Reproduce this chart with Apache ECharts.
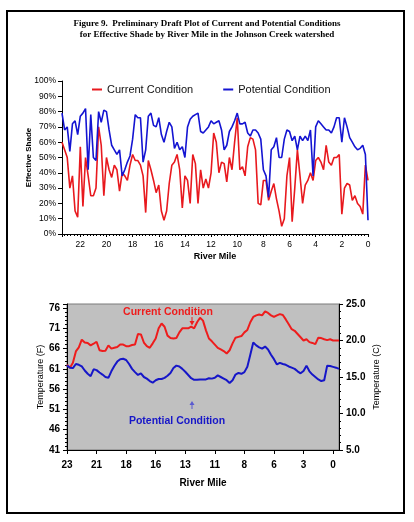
<!DOCTYPE html>
<html><head><meta charset="utf-8">
<script src="https://cdn.jsdelivr.net/npm/echarts@6/dist/echarts.min.js"></script>
<style>html,body{margin:0;padding:0;background:#fff}#c{width:414px;height:522px}</style>
</head><body><div id="c"></div>
<script>
// ---- Top chart: effective shade (%) by river mile ----
const shadeMiles = [
  23.4,23.2,23.0,22.8,22.6,22.4,22.2,22.0,21.8,21.6,
  21.4,21.2,21.0,20.8,20.6,20.4,20.2,20.0,19.8,19.6,
  19.4,19.2,19.0,18.8,18.6,18.4,18.2,18.0,17.8,17.6,
  17.4,17.2,17.0,16.8,16.6,16.4,16.2,16.0,15.8,15.6,
  15.4,15.2,15.0,14.8,14.6,14.4,14.2,14.0,13.8,13.6,
  13.4,13.2,13.0,12.8,12.6,12.4,12.2,12.0,11.8,11.6,
  11.4,11.2,11.0,10.8,10.6,10.4,10.2,10.0,9.8,9.6,
  9.4,9.2,9.0,8.8,8.6,8.4,8.2,8.0,7.8,7.6,
  7.4,7.2,7.0,6.8,6.6,6.4,6.2,6.0,5.8,5.6,
  5.4,5.2,5.0,4.8,4.6,4.4,4.2,4.0,3.8,3.6,
  3.4,3.2,3.0,2.8,2.6,2.4,2.2,2.0,1.8,1.6,
  1.4,1.2,1.0,0.8,0.6,0.4,0.2,0.0
];
const currentShade = [
  60,55,50,30,38,15,11,57,18,50,
  38,25,25,30,70,58,25,50,42,37,
  45,42,28,40,38,35,45,52,48,48,
  45,38,14,48,42,35,27,32,15,9,
  15,33,45,47,52,42,17,38,35,20,
  52,46,20,42,30,36,30,40,66,60,
  40,47,46,34,50,42,60,76,42,44,
  38,57,63,62,55,20,19,35,35,22,
  28,33,23,15,5,10,38,50,8,30,
  55,38,20,32,35,40,35,48,50,47,
  42,58,47,45,50,50,52,13,30,33,
  32,22,25,20,18,13,45,35
];
const potentialShade = [
  79,68,70,54,72,74,65,77,79,82,
  42,78,50,48,80,73,81,80,68,58,
  55,52,55,38,42,47,51,62,78,76,
  76,47,55,77,79,71,70,76,65,60,
  67,73,70,56,60,55,57,50,70,75,
  77,78,79,67,66,68,70,74,72,73,
  74,68,55,58,67,70,74,79,72,72,
  73,66,64,68,68,66,62,42,38,24,
  55,57,63,50,50,62,68,67,61,64,
  55,64,61,64,61,68,38,70,74,72,
  70,68,68,66,70,76,76,60,76,70,
  63,60,57,55,56,58,52,9
];

// ---- Bottom chart: stream temperature (F) ----
const tempTickLabels = ['23','21','18','16','13','11','8','6','3','0'];
const currentTempF = [
  62.0,61.3,62.5,65.3,66.3,68.2,67.5,67.4,66.8,67.2,
  67.7,65.6,65.4,65.5,66.8,66.0,66.2,66.4,67.0,67.0,
  66.6,66.6,66.9,67.0,69.6,69.5,67.5,66.6,66.2,67.3,
  68.5,71.0,72.2,71.4,69.2,68.6,68.5,68.6,70.0,71.0,
  71.0,71.0,71.4,71.0,72.5,73.6,72.9,70.5,68.5,67.8,
  67.0,66.2,65.8,65.4,64.8,65.6,67.3,68.7,68.9,69.1,
  70.0,70.6,72.5,73.8,74.2,74.4,74.2,75.2,74.8,74.2,
  73.8,74.2,74.5,74.3,73.2,72.0,70.8,70.4,69.6,68.8,
  68.0,68.3,67.6,67.4,67.1,68.7,68.6,68.3,68.1,68.3,
  68.0,68.0,68.0
];
const potentialTempF = [
  61.8,61.3,61.2,62.2,62.0,61.6,60.6,59.8,59.2,60.9,
  60.7,60.1,59.6,59.0,58.8,60.4,61.7,62.8,63.4,63.5,
  63.2,62.2,61.0,60.2,59.5,59.9,59.0,58.6,58.0,57.6,
  58.2,58.5,58.5,58.8,59.3,60.0,61.2,61.8,61.6,61.0,
  60.3,59.5,58.7,58.3,58.3,58.4,58.4,58.4,58.7,58.6,
  58.8,59.4,59.0,58.6,58.2,57.5,58.2,59.6,60.0,59.8,
  60.2,61.5,64.5,67.5,66.8,66.3,66.0,66.5,65.8,64.5,
  63.4,62.1,62.5,62.2,62.0,61.6,61.3,61.0,60.4,59.9,
  60.5,61.8,60.4,59.6,59.0,58.4,58.0,58.2,61.8,61.7,
  61.5,61.3,61.0
];

const SANS = '"Liberation Sans", Arial, sans-serif';
const RED = '#e8191e', BLUE = '#1414d2';
const BRED = '#ee1c1c', BBLUE = '#1616c8';

const chart = echarts.init(document.getElementById('c'), null, {renderer: 'canvas'});
const tempIdx = currentTempF.map((_, i) => String(i));

const option = {
  animation: false,
  backgroundColor: '#fff',
  textStyle: {fontFamily: SANS},
  legend: {
    data: ['Current Condition', 'Potential Condition'],
    left: 92, top: 84, padding: 0,
    icon: 'rect', itemWidth: 10, itemHeight: 2, itemGap: 30,
    textStyle: {fontSize: 11, color: '#111', fontFamily: SANS}
  },
  grid: [
    {left: 62, top: 81, width: 306, height: 153, show: false},
    {left: 67, top: 304, width: 272, height: 146, show: true,
     backgroundColor: '#c0c0c0', borderColor: '#7a7a7a', borderWidth: 1}
  ],
  xAxis: [
    {type: 'value', gridIndex: 0, min: 0, max: 23.4, interval: 2, inverse: true,
     axisLine: {show: true, onZero: false, lineStyle: {color: '#000', width: 1}},
     axisTick: {show: true, length: 3, lineStyle: {color: '#000'}},
     minorTick: {show: true, splitNumber: 8, length: 2, lineStyle: {color: '#000'}},
     splitLine: {show: false},
     axisLabel: {fontSize: 8.5, color: '#000', margin: 6, showMaxLabel: false},
     name: 'River Mile', nameLocation: 'middle', nameGap: 18, nameMoveOverlap: false,
     nameTextStyle: {fontSize: 9, fontWeight: 'bold', color: '#000'}},
    {type: 'category', gridIndex: 1, data: tempIdx, boundaryGap: false,
     axisLine: {show: true, onZero: false, lineStyle: {color: '#000', width: 1}},
     axisTick: {show: true, interval: 9, length: 4, lineStyle: {color: '#000'}},
     axisLabel: {interval: 9, fontSize: 10, fontWeight: 'bold', color: '#000', margin: 10,
       formatter: (v, i) => tempTickLabels[i / 10] || ''},
     splitLine: {show: false},
     name: 'River Mile', nameLocation: 'middle', nameGap: 28, nameMoveOverlap: false,
     nameTextStyle: {fontSize: 10, fontWeight: 'bold', color: '#000'}}
  ],
  yAxis: [
    {type: 'value', gridIndex: 0, min: 0, max: 100, interval: 10,
     axisLine: {show: true, onZero: false, lineStyle: {color: '#000', width: 1}},
     axisTick: {show: true, length: 4, lineStyle: {color: '#000'}},
     splitLine: {show: false},
     axisLabel: {formatter: '{value}%', fontSize: 8.5, color: '#000', margin: 6},
     name: 'Effective Shade', nameLocation: 'middle', nameGap: 29, nameMoveOverlap: false,
     nameTextStyle: {fontSize: 8, fontWeight: 'bold', color: '#000'}},
    {type: 'value', gridIndex: 1, position: 'left', min: 41, max: 77, interval: 5,
     axisLine: {show: true, onZero: false, lineStyle: {color: '#000', width: 1}},
     axisTick: {show: true, length: 4, lineStyle: {color: '#000'}},
     minorTick: {show: true, splitNumber: 5, length: 2, lineStyle: {color: '#000'}},
     splitLine: {show: false},
     axisLabel: {fontSize: 10, fontWeight: 'bold', color: '#000', margin: 7, showMaxLabel: false},
     name: 'Temperature (F)', nameLocation: 'middle', nameGap: 22, nameMoveOverlap: false,
     nameTextStyle: {fontSize: 9, color: '#000'}},
    {type: 'value', gridIndex: 1, position: 'right', min: 5, max: 25, interval: 5,
     axisLine: {show: true, onZero: false, lineStyle: {color: '#000', width: 1}},
     axisTick: {show: true, length: 4, lineStyle: {color: '#000'}},
     minorTick: {show: true, splitNumber: 5, length: 2, lineStyle: {color: '#000'}},
     splitLine: {show: false},
     axisLabel: {fontSize: 10, fontWeight: 'bold', color: '#000', margin: 7,
       formatter: v => v.toFixed(1)},
     name: 'Temperature (C)', nameLocation: 'middle', nameGap: 33, nameMoveOverlap: false,
     nameTextStyle: {fontSize: 9, color: '#000'}}
  ],
  series: [
    {name: 'Current Condition', type: 'line', xAxisIndex: 0, yAxisIndex: 0,
     data: shadeMiles.map((m, i) => [m, currentShade[i]]),
     showSymbol: false, color: RED, lineStyle: {color: RED, width: 1.6}},
    {name: 'Potential Condition', type: 'line', xAxisIndex: 0, yAxisIndex: 0,
     data: shadeMiles.map((m, i) => [m, potentialShade[i]]),
     showSymbol: false, color: BLUE, lineStyle: {color: BLUE, width: 1.6}},
    {name: 'Current Temp', type: 'line', xAxisIndex: 1, yAxisIndex: 1,
     data: currentTempF, showSymbol: false, lineStyle: {color: BRED, width: 2}, color: BRED},
    {name: 'Potential Temp', type: 'line', xAxisIndex: 1, yAxisIndex: 1,
     data: potentialTempF, showSymbol: false, lineStyle: {color: BBLUE, width: 2}, color: BBLUE}
  ],
  graphic: [
    {type: 'rect', shape: {x: 7, y: 11, width: 397, height: 502},
     style: {fill: 'none', stroke: '#000', lineWidth: 2}, silent: true},
    {type: 'text', x: 207, y: 24, style: {text: 'Figure 9.  Preliminary Draft Plot of Current and Potential Conditions',
      font: 'bold 9px "Liberation Serif", "Times New Roman", serif', fill: '#000', align: 'center', verticalAlign: 'middle'}},
    {type: 'text', x: 207, y: 35, style: {text: 'for Effective Shade by River Mile in the Johnson Creek watershed',
      font: 'bold 9px "Liberation Serif", "Times New Roman", serif', fill: '#000', align: 'center', verticalAlign: 'middle'}},
    {type: 'text', x: 168, y: 312, z: 10, style: {text: 'Current Condition',
      font: 'bold 10.5px ' + SANS, fill: BRED, align: 'center', verticalAlign: 'middle'}},
    {type: 'line', z: 10, shape: {x1: 192, y1: 317, x2: 192, y2: 322}, style: {stroke: BRED, lineWidth: 1}},
    {type: 'polygon', z: 10, shape: {points: [[189.5, 321], [194.5, 321], [192, 325.5]]}, style: {fill: BRED}},
    {type: 'text', x: 177, y: 421, z: 10, style: {text: 'Potential Condition',
      font: 'bold 10.5px ' + SANS, fill: BBLUE, align: 'center', verticalAlign: 'middle'}},
    {type: 'line', z: 10, shape: {x1: 192, y1: 404, x2: 192, y2: 409}, style: {stroke: '#5a5ad0', lineWidth: 1}},
    {type: 'polygon', z: 10, shape: {points: [[189.5, 405], [194.5, 405], [192, 401]]}, style: {fill: '#5a5ad0'}}
  ]
};
chart.setOption(option);
</script>
</body></html>
